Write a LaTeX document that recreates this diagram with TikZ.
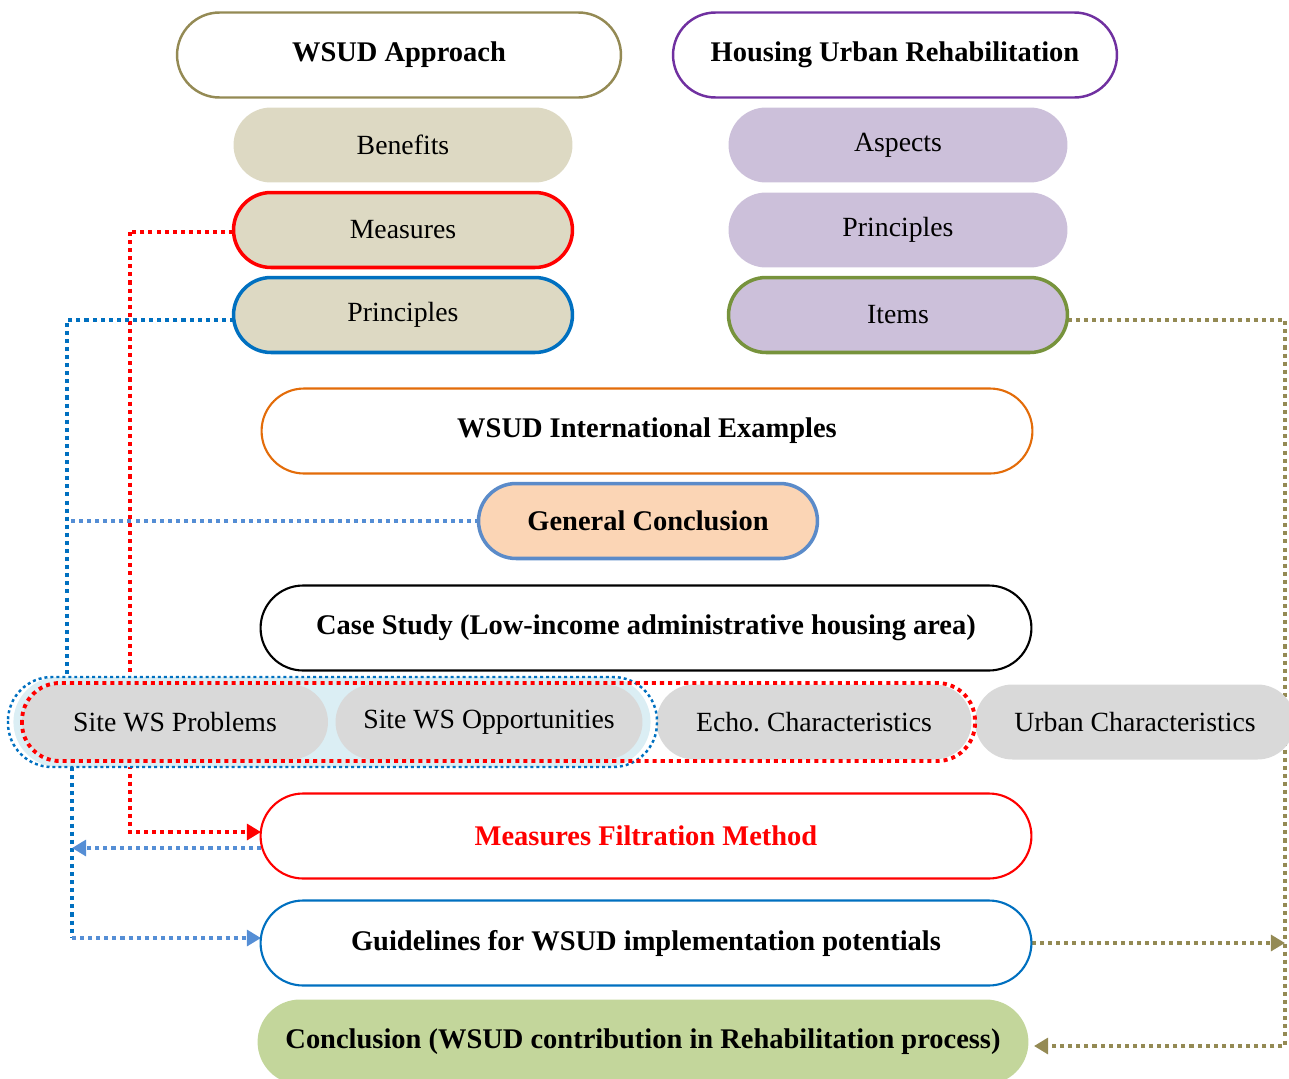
\documentclass[tikz,border=0pt]{standalone}
\usepackage{fontspec}
\setmainfont{Liberation Serif}
\usetikzlibrary{shapes.misc,arrows.meta}
\definecolor{wolive}{HTML}{948A54}
\definecolor{hpurple}{HTML}{7030A0}
\definecolor{benfill}{HTML}{DDD9C3}
\definecolor{aspfill}{HTML}{CCC0DA}
\definecolor{mred}{HTML}{FF0000}
\definecolor{pblue}{HTML}{0070C0}
\definecolor{lblue}{HTML}{558ED5}
\definecolor{igreen}{HTML}{77933C}
\definecolor{iorange}{HTML}{E36C09}
\definecolor{gpeach}{HTML}{FBD5B5}
\definecolor{gborder}{HTML}{5B8BC9}
\definecolor{rowgray}{HTML}{D9D9D9}
\definecolor{rowblue}{HTML}{DBEEF4}
\definecolor{cgreen}{HTML}{C3D69B}
\tikzset{
  pill/.style={rounded rectangle, inner sep=0pt, font=\fontsize{15.8}{19}\selectfont},
  headbox/.style={pill, draw, line width=1.4pt, fill=white, minimum width=8.88cm, minimum height=1.70cm, font=\fontsize{16.2}{19}\selectfont\bfseries},
  subbox/.style={pill, minimum width=6.78cm, minimum height=1.50cm},
  widebox/.style={pill, draw, line width=1.2pt, fill=white, minimum width=15.42cm, minimum height=1.70cm, font=\fontsize{16.2}{19}\selectfont\bfseries},
  rowbox/.style={pill, fill=rowgray, minimum height=1.50cm},
  dotline/.style={line width=2.2pt, dash pattern=on 2.3pt off 2.3pt},
  tip/.style={-{Triangle[length=8pt,width=9pt]}}
}
\begin{document}
\begin{tikzpicture}[x=0.02cm,y=-0.02cm]
\useasboundingbox (0,0) rectangle (1289,1079);
% helper coordinates for the connector lanes
\coordinate (redx) at (130,0);
\coordinate (bluex) at (67,0);
\coordinate (bluexb) at (72,0);
\coordinate (olivex) at (1285,0);
% node positions
\path
  (399,55) coordinate (pApp)  (895,55) coordinate (pHur)
  (403,145) coordinate (pBen) (403,230) coordinate (pMea) (403,315) coordinate (pPriL)
  (898,145) coordinate (pAsp) (898,230) coordinate (pPriR) (898,315) coordinate (pIte);

% connectors first, nodes cover them
\draw[mred,dotline] (403,232) -- (redx |- 0,232);
\draw[mred,dotline,tip] (redx |- 0,232) -- (redx |- 0,832) -- (261,832);
\draw[pblue,dotline] (234,320) -- (bluex |- 0,320) -- (bluex |- 0,677);
\draw[lblue,dotline] (479,521) -- (bluex |- 0,521);
\draw[pblue,dotline] (bluexb |- 0,767) -- (bluexb |- 0,938);
\draw[lblue,dotline,tip] (bluexb |- 0,938) -- (261,938);
\draw[lblue,dotline,tip] (261,848) -- (bluexb |- 0,848);
\draw[wolive,dotline,tip] (1068,320) -- (olivex |- 0,320) -- (olivex |- 0,1046) -- (1034,1046);
\draw[wolive,dotline,tip] (1032,943) -- (olivex |- 0,943);

% top boxes
\node[headbox, draw=wolive] (approach) at (pApp) {WSUD Approach};
\node[headbox, draw=hpurple] (housing) at (pHur) {Housing Urban Rehabilitation};
\node[subbox, fill=benfill] (benefits) at (pBen) {Benefits};
\node[subbox, fill=benfill, draw=mred, line width=2pt] (measures) at (pMea) {Measures};
\node[subbox, fill=benfill, draw=pblue, line width=2pt] (principlesL) at (pPriL) {Principles};
\node[subbox, fill=aspfill] (aspects) at (pAsp) {Aspects};
\node[subbox, fill=aspfill] (principlesR) at (pPriR) {Principles};
\node[subbox, fill=aspfill, draw=igreen, line width=2pt] (items) at (pIte) {Items};

% middle
\node[widebox, draw=iorange] (examples) at (647,431) {WSUD International Examples};
\node[subbox, fill=gpeach, draw=gborder, line width=2pt, font=\fontsize{16.2}{19}\selectfont\bfseries] (genconc) at (648,521) {General Conclusion};
\node[widebox, draw=black] (casestudy) at (646,628) {Case Study (Low-income administrative housing area)};

% site row
\node[rounded rectangle, fill=rowblue, minimum width=12.98cm, minimum height=1.80cm] (siteenc) at (332,722) {};
\node[rowbox, minimum width=6.12cm] (problems) at (175,722) {Site WS Problems};
\node[rowbox, minimum width=6.14cm] (opport) at (489,722) {Site WS Opportunities};
\node[rowbox, minimum width=6.30cm] (echo) at (814,722) {Echo.\ Characteristics};
\node[rowbox, minimum width=6.40cm] (urban) at (1135,722) {Urban Characteristics};
\draw[pblue,line width=1.4pt,dash pattern=on 1.7pt off 1.7pt,rounded corners=25pt] (8,677) rectangle (657,767);
\draw[mred,dotline,rounded corners=21.5pt] (22,683) rectangle (975,761);

% bottom
\node[widebox, draw=mred, text=mred] (filtration) at (646,836) {Measures Filtration Method};
\node[widebox, draw=pblue] (guidelines) at (646,943) {Guidelines for WSUD implementation potentials};
\node[widebox, draw=none, fill=cgreen] (conclusion) at (643,1042) {Conclusion (WSUD contribution in Rehabilitation process)};
\end{tikzpicture}
\end{document}
